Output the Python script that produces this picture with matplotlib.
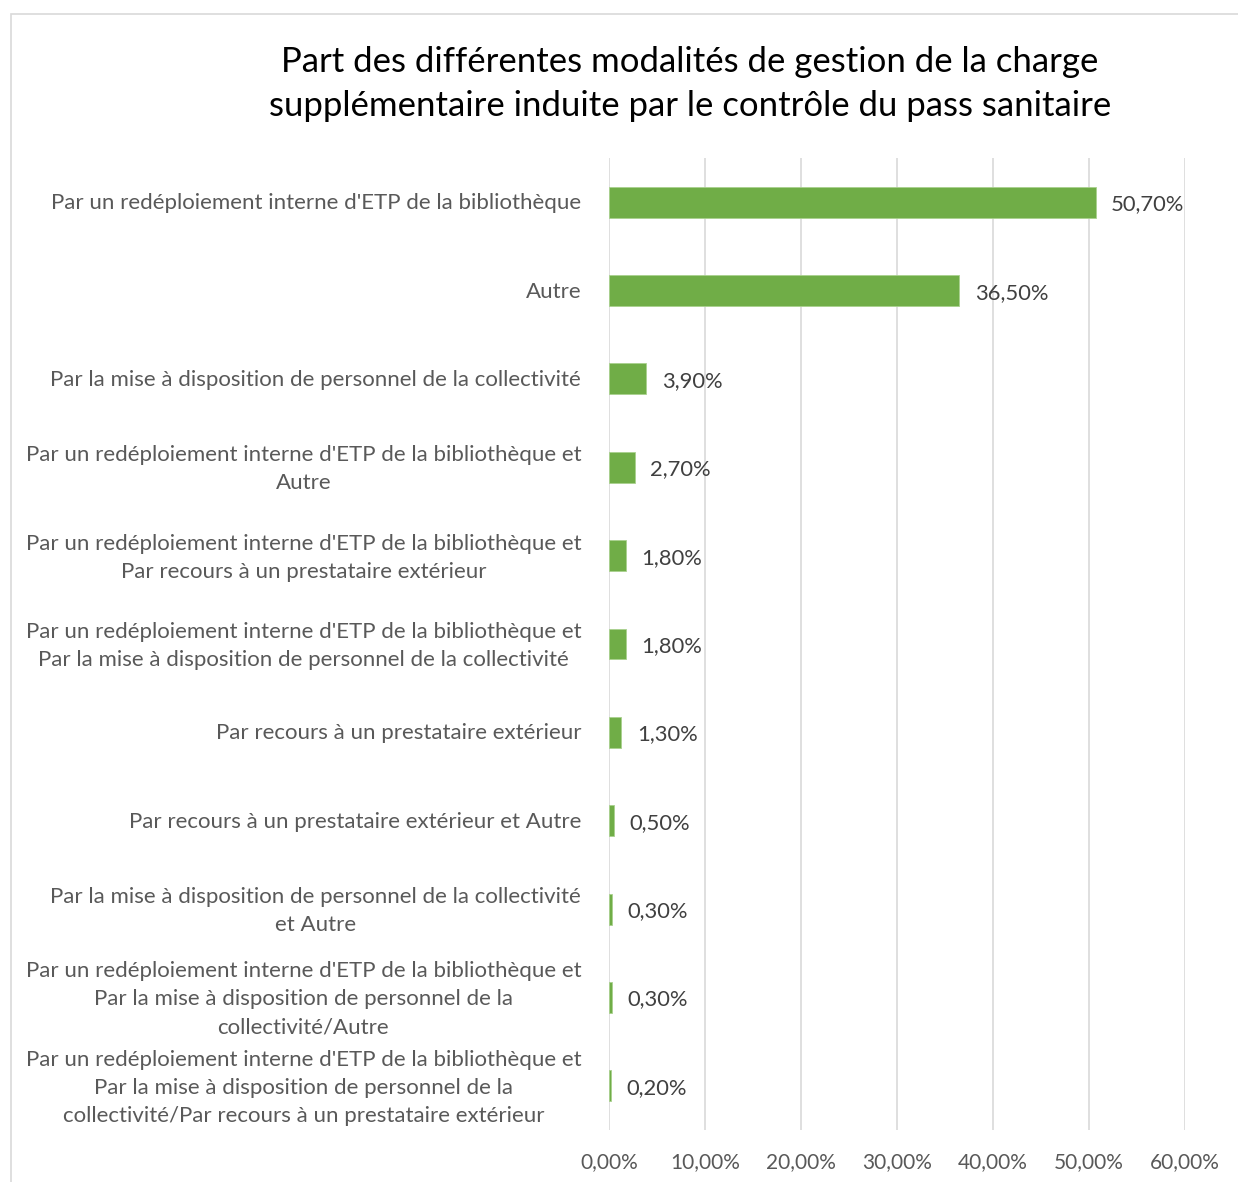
import matplotlib.pyplot as plt
import matplotlib.patches as patches
import matplotlib.transforms as mtransforms
from matplotlib.ticker import FuncFormatter

plt.rcParams['font.family'] = ['Lato', 'DejaVu Sans']

# donnees
categories = [
    "Par un redéploiement interne d'ETP de la bibliothèque",
    "Autre",
    "Par la mise à disposition de personnel de la collectivité",
    "Par un redéploiement interne d'ETP de la bibliothèque et\nAutre",
    "Par un redéploiement interne d'ETP de la bibliothèque et\nPar recours à un prestataire extérieur",
    "Par un redéploiement interne d'ETP de la bibliothèque et\nPar la mise à disposition de personnel de la collectivité",
    "Par recours à un prestataire extérieur",
    "Par recours à un prestataire extérieur et Autre",
    "Par la mise à disposition de personnel de la collectivité\net Autre",
    "Par un redéploiement interne d'ETP de la bibliothèque et\nPar la mise à disposition de personnel de la\ncollectivité/Autre",
    "Par un redéploiement interne d'ETP de la bibliothèque et\nPar la mise à disposition de personnel de la\ncollectivité/Par recours à un prestataire extérieur",
]
valeurs = [50.7, 36.5, 3.9, 2.7, 1.8, 1.8, 1.3, 0.5, 0.3, 0.3, 0.2]
xticks = [0, 10, 20, 30, 40, 50, 60]

titre = ("Part des différentes modalités de gestion de la charge\n"
         "supplémentaire induite par le contrôle du pass sanitaire")

def fmt_pct(v):
    return ("%.2f%%" % v).replace(".", ",")

W, H = 1238, 1182
fig = plt.figure(figsize=(W / 100, H / 100), dpi=100)

# cadre de la zone de graphique
fig.patches.append(patches.Rectangle((11 / W, -0.1), 1.2, 1 - 14 / H + 0.1,
                                     transform=fig.transFigure, fill=False,
                                     edgecolor='#D9D9D9', linewidth=1.2))

ax = fig.add_axes([609 / W, 1 - 1130 / H, (1185 - 609) / W, (1130 - 158) / H])

y = list(range(len(categories)))
ax.barh(y, valeurs, height=0.35, color='#70AD47', edgecolor='#A9D18E', linewidth=0.6)

for yi, v in zip(y, valeurs):
    ax.annotate(fmt_pct(v), (v, yi), xytext=(11, -1.5), textcoords='offset points',
                va='center', ha='left', fontsize=15.8, color='#404040')

ax.set_ylim(len(categories) - 0.5, -0.5)
ax.set_xlim(0, 60)
ax.set_xticks(xticks)
ax.xaxis.set_major_formatter(FuncFormatter(lambda v, p: fmt_pct(v)))
ax.set_yticks(y)
ax.set_yticklabels(categories, multialignment='center', linespacing=1.5)
ax.tick_params(axis='y', length=0, pad=20, labelsize=16, labelcolor='#595959')
ax.tick_params(axis='x', length=0, pad=16, labelsize=15, labelcolor='#595959')

# petit recalage vertical des libelles sur plusieurs lignes
for lab in ax.get_yticklabels():
    dy = 4 if "\n" in lab.get_text() else 1
    lab.set_transform(lab.get_transform() +
                      mtransforms.ScaledTranslation(0, dy / 100, fig.dpi_scale_trans))

ax.grid(axis='x', color='#D9D9D9', linewidth=1.2)
ax.set_axisbelow(True)
for s in ax.spines.values():
    s.set_visible(False)

fig.text(690 / W, 1 - 84 / H, titre, ha='center', va='center', fontsize=25,
         color='#000000', linespacing=1.45)

fig.savefig('out.png', dpi=100)
